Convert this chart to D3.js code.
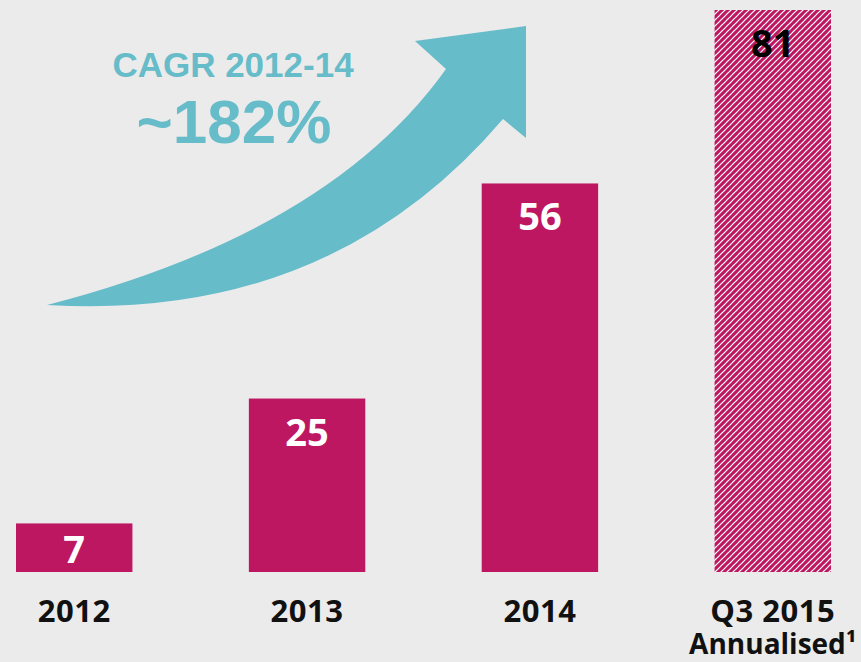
<!DOCTYPE html>
<html>
<head>
<meta charset="utf-8">
<script src="https://cdn.jsdelivr.net/npm/d3@7"></script>
<style>
  body { margin: 0; background: #ebebeb; }
  svg { display: block; }
</style>
</head>
<body>
<div id="chart"></div>
<script>
// Data
let years = ['2012', '2013', '2014', 'Q3 2015'];
let values = [7, 25, 56, 81];
let subLabels = ['', '', '', 'Annualised\u00b9'];
let hatched = [false, false, false, true];
let cagrTitle = 'CAGR 2012-14';
let cagrValue = '~182%';

let width = 861,
    height = 662;

let margin = { top: 10, bottom: 90, left: 16, right: 30 };

let svg = d3.select('#chart')
  .append('svg')
  .attr('width', width)
  .attr('height', height)
  .style('background', '#ebebeb');

// hatch pattern for the annualised bar
let defs = svg.append('defs');
let pat = defs.append('pattern')
  .attr('id', 'hatch')
  .attr('patternUnits', 'userSpaceOnUse')
  .attr('width', 6)
  .attr('height', 6);
pat.append('rect').attr('width', 6).attr('height', 6).attr('fill', '#ffffff');
pat.append('path')
  .attr('d', 'M0,6 L6,0 M-1,1 L1,-1 M5,7 L7,5')
  .attr('stroke', '#be1762')
  .attr('stroke-width', 3.1);

// scales
let xScale = d3.scaleBand()
  .domain(years)
  .range([margin.left, width - margin.right])
  .paddingInner(0.5)
  .paddingOuter(0);

let yScale = d3.scaleLinear()
  .domain([0, 81])
  .range([height - margin.bottom, margin.top]);

let base = yScale(0);

// bars
let data = years.map((y, i) => ({ year: y, value: values[i], sub: subLabels[i], hatch: hatched[i] }));

svg.selectAll('rect.bar')
  .data(data)
  .enter()
  .append('rect')
  .attr('class', 'bar')
  .attr('x', d => xScale(d.year))
  .attr('y', d => yScale(d.value))
  .attr('width', xScale.bandwidth())
  .attr('height', d => base - yScale(d.value))
  .attr('fill', d => d.hatch ? 'url(#hatch)' : '#be1762');

// value labels
svg.selectAll('text.val')
  .data(data)
  .enter()
  .append('text')
  .attr('class', 'val')
  .attr('x', d => xScale(d.year) + xScale.bandwidth() / 2)
  .attr('y', d => Math.min(yScale(d.value) + 47, base - 9))
  .attr('text-anchor', 'middle')
  .style('font-family', '"Open Sans", sans-serif')
  .style('font-weight', 700)
  .style('font-size', '38px')
  .style('fill', d => d.hatch ? '#000000' : '#ffffff')
  .text(d => d.value);

// category labels
let xAxis = svg.append('g')
  .attr('transform', `translate(0,${base})`)
  .call(d3.axisBottom(xScale).tickSize(0).tickPadding(0));
xAxis.select('.domain').remove();
xAxis.selectAll('text')
  .attr('y', 50)
  .attr('dy', 0)
  .style('font-family', '"Open Sans", sans-serif')
  .style('font-weight', 700)
  .style('font-size', '31px')
  .style('fill', '#111')
  .style('letter-spacing', '0.5px');

svg.selectAll('text.sub')
  .data(data.filter(d => d.sub))
  .enter()
  .append('text')
  .attr('class', 'sub')
  .attr('x', d => xScale(d.year) + xScale.bandwidth() / 2)
  .attr('y', base + 82)
  .attr('text-anchor', 'middle')
  .style('font-family', '"Open Sans", sans-serif')
  .style('font-weight', 700)
  .style('font-size', '28px')
  .style('fill', '#111')
  .text(d => d.sub);

// growth arrow
svg.append('path')
  .attr('d', 'M47,305 Q330,232 446,69 L415,41 L526,26 L526,138 L503,119 Q330,322 47,305 Z')
  .attr('fill', '#67bcc9');

svg.append('text')
  .attr('x', 233)
  .attr('y', 77)
  .attr('text-anchor', 'middle')
  .style('font-family', '"Liberation Sans", Arial, sans-serif')
  .style('font-weight', 700)
  .style('font-size', '35px')
  .style('fill', '#67bcc9')
  .text(cagrTitle);

svg.append('text')
  .attr('x', 234)
  .attr('y', 143)
  .attr('text-anchor', 'middle')
  .style('font-family', '"Liberation Sans", Arial, sans-serif')
  .style('font-weight', 700)
  .style('font-size', '62px')
  .style('fill', '#67bcc9')
  .text(cagrValue);
</script>
</body>
</html>
